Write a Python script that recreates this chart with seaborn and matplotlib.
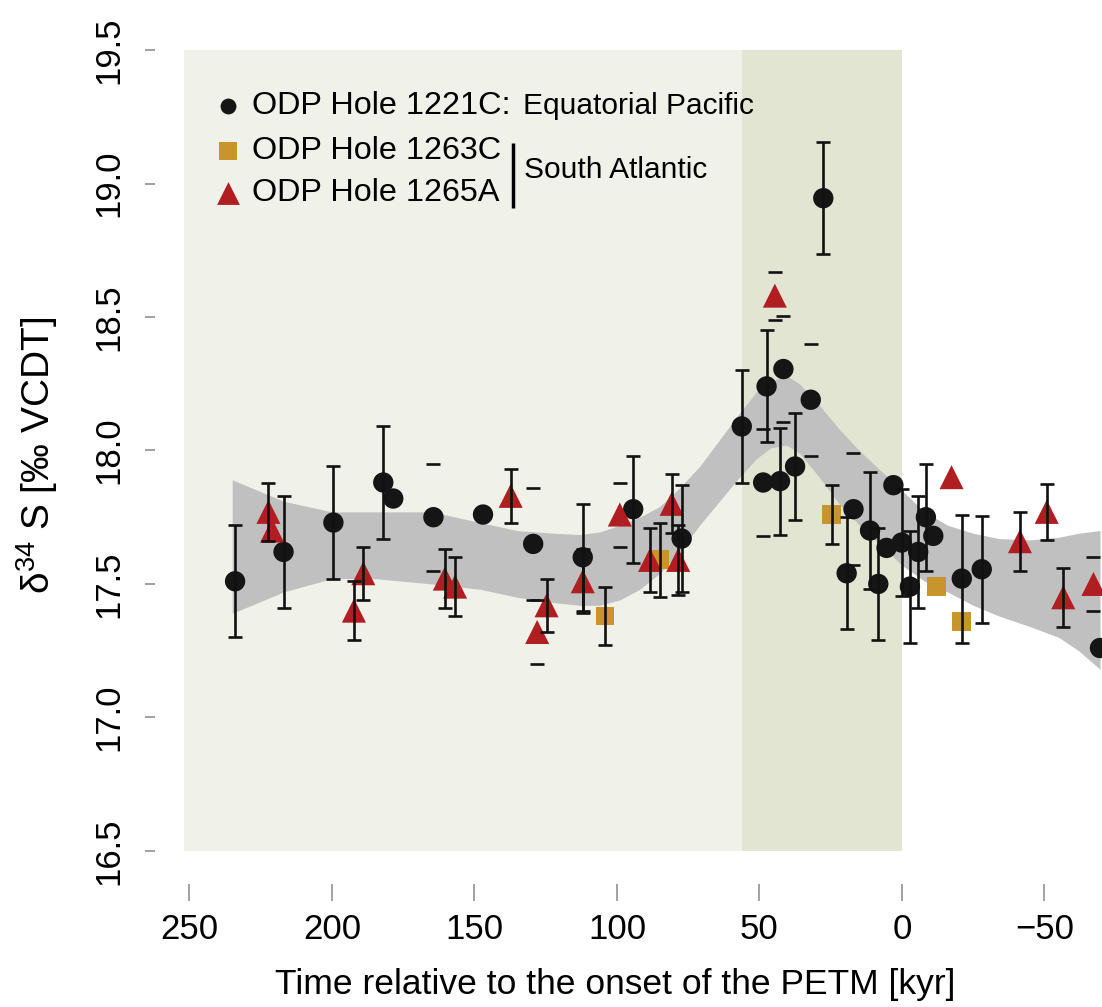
import matplotlib
matplotlib.use("Agg")
import matplotlib.pyplot as plt
import seaborn as sns
import pandas as pd
import numpy as np

# ---------------- data ----------------
# ODP Hole 1221C (Equatorial Pacific) - circles
t_1221 = [234, 217, 199.5, 182, 178.5, 164.4, 147, 129.4, 112, 94.3, 77.3, 56.2, 48.7, 47.5, 42.8,
          41.6, 37.5, 32, 27.6, 17, 19.4, 11.2, 8.3, 5.4, 3, 0.1, -2.8, -5.7, -8.4, -11, -21, -28, -69.5]
v_1221 = [17.51, 17.62, 17.73, 17.88, 17.82, 17.75, 17.76, 17.65, 17.60, 17.78, 17.67, 18.09, 17.88, 18.24, 17.885,
          18.305, 17.94, 18.19, 18.945, 17.78, 17.54, 17.70, 17.50, 17.635, 17.87, 17.655, 17.49, 17.62, 17.75, 17.68,
          17.52, 17.555, 17.26]
e_1221 = [0.21, 0.21, 0.21, 0.21, 0, 0.2, 0, 0.21, 0.2, 0.2, 0.2, 0.21, 0.2, 0.21, 0.2,
          0.2, 0.2, 0.21, 0.21, 0.21, 0.21, 0.22, 0.21, 0, 0, 0.2, 0.21, 0.21, 0.2, 0,
          0.24, 0.2, 0]
bar_1221 = ['full', 'full', 'full', 'full', 'none', 'cap', 'none', 'cap', 'full', 'full', 'full', 'full', 'cap', 'full', 'full',
            'cap', 'full', 'cap', 'full', 'cap', 'full', 'full', 'full', 'none', 'none', 'full', 'full', 'full', 'full', 'none',
            'full', 'full', 'none']

# ODP Hole 1263C (South Atlantic) - squares
t_1263 = [104.2, 85, 24.7, -12.2, -21]
v_1263 = [17.38, 17.59, 17.76, 17.49, 17.36]
e_1263 = [0.11, 0.14, 0.11, 0, 0]
bar_1263 = ['full', 'full', 'full', 'none', 'none']

# ODP Hole 1265A (South Atlantic) - triangles
t_1265 = [222.3, 221, 192.3, 189, 160.4, 156.8, 137.3, 128, 124.7, 112, 99, 88.4, 80.8, 78.5, 44.6,
          -17.4, -41.4, -50.8, -56.6, -67.2]
v_1265 = [17.77, 17.70, 17.40, 17.54, 17.52, 17.49, 17.83, 17.32, 17.42, 17.51, 17.76, 17.59, 17.80, 17.59, 18.58,
          17.90, 17.66, 17.77, 17.45, 17.50]
e_1265 = [0.11, 0, 0.11, 0.1, 0.11, 0.11, 0.1, 0.12, 0.1, 0.12, 0.12, 0.12, 0.11, 0.13, 0.09,
          0, 0.11, 0.105, 0.11, 0.1]
bar_1265 = ['full', 'none', 'full', 'full', 'full', 'full', 'full', 'cap', 'full', 'full', 'cap', 'full', 'full', 'full', 'cap',
            'none', 'full', 'full', 'full', 'cap']

# smoothed fit confidence band
band_t = [235, 217, 200, 185, 165, 148, 135, 122, 113, 106, 99, 92, 85, 78, 71, 64, 57, 51, 46, 40.5, 36,
          29, 22, 15, 8, 0, -8, -16, -25, -34, -45, -55, -62, -69.5]
band_upper = [17.89, 17.81, 17.77, 17.77, 17.77, 17.73, 17.70, 17.69, 17.685, 17.695, 17.72, 17.75, 17.79, 17.86,
              17.94, 18.04, 18.14, 18.22, 18.26, 18.28, 18.25, 18.17, 18.08, 18.00, 17.93, 17.85, 17.77, 17.72,
              17.69, 17.67, 17.665, 17.675, 17.69, 17.70]
band_lower = [17.39, 17.47, 17.52, 17.52, 17.50, 17.48, 17.45, 17.43, 17.42, 17.42, 17.44, 17.48, 17.54, 17.62,
              17.72, 17.81, 17.90, 17.97, 18.01, 18.02, 17.99, 17.90, 17.80, 17.72, 17.65, 17.57, 17.51, 17.47,
              17.42, 17.38, 17.34, 17.30, 17.25, 17.18]

# shaded intervals
pre_span = [56.1, 252]
petm_span = [0, 56.1]

x_ticks = [250, 200, 150, 100, 50, 0, -50]
x_ticklabels = ['250', '200', '150', '100', '50', '0', '\u221250']
y_ticks = [16.5, 17.0, 17.5, 18.0, 18.5, 19.0, 19.5]
y_ticklabels = ['16.5', '17.0', '17.5', '18.0', '18.5', '19.0', '19.5']

sites = ['1221C', '1263C', '1265A']
labels = ['ODP Hole 1221C:', 'ODP Hole 1263C', 'ODP Hole 1265A']
colors = {'1221C': '#151515', '1263C': '#c8942c', '1265A': '#b01e22'}
markers = {'1221C': 'o', '1263C': 's', '1265A': '^'}
sizes = {'1221C': 215, '1263C': 185, '1265A': 300}

# ---------------- style ----------------
sns.set_style("white")
plt.rcParams['font.family'] = ['Liberation Sans', 'DejaVu Sans']
plt.rcParams['mathtext.fontset'] = 'custom'
plt.rcParams['mathtext.rm'] = 'Liberation Sans'
plt.rcParams['mathtext.it'] = 'Liberation Sans:italic'
plt.rcParams['text.color'] = 'black'
plt.rcParams['axes.labelcolor'] = 'black'
plt.rcParams['xtick.labelcolor'] = 'black'
plt.rcParams['ytick.labelcolor'] = 'black'

W, H = 1102, 1007
fig = plt.figure(figsize=(W / 100, H / 100), dpi=100)
ax_l, ax_r, ax_t, ax_b = 155, 1102, 18, 884
ax = fig.add_axes([ax_l / W, (H - ax_b) / H, (ax_r - ax_l) / W, (ax_b - ax_t) / H])
ax.set_facecolor('white')

ax.set_xlim(262.1, -70.2)
ax.set_ylim(16.376, 19.62)

# background spans
ax.fill_between(pre_span, 16.5, 19.5, color='#f0f1e8', lw=0, zorder=0)
ax.fill_between(petm_span, 16.5, 19.5, color='#e2e5d1', lw=0, zorder=0)

# confidence band
ax.fill_between(band_t, band_lower, band_upper, color='#c0c0c0', lw=0, zorder=1)

frames = []
for s, tt, vv, ee, bb in [('1221C', t_1221, v_1221, e_1221, bar_1221),
                          ('1263C', t_1263, v_1263, e_1263, bar_1263),
                          ('1265A', t_1265, v_1265, e_1265, bar_1265)]:
    frames.append(pd.DataFrame({'t': tt, 'v': vv, 'e': ee, 'bar': bb, 'site': s}))
df = pd.concat(frames, ignore_index=True)

sns.scatterplot(data=df, x='t', y='v', hue='site', style='site', size='site',
                palette=colors, markers=markers, sizes=sizes, hue_order=sites,
                linewidth=0, edgecolor='none', legend=False, ax=ax, zorder=3)

full = df[df['bar'] == 'full']
ax.errorbar(full['t'], full['v'], yerr=full['e'], fmt='none', ecolor='#111111',
            elinewidth=1.9, capsize=4.7, capthick=1.9, zorder=4)
caps = df[df['bar'] == 'cap']
ax.errorbar(caps['t'], caps['v'], yerr=caps['e'], fmt='none', ecolor='#111111',
            elinewidth=0, capsize=4.7, capthick=1.9, zorder=4)

# axes styling
for sp in ax.spines.values():
    sp.set_visible(False)
ax.set_xticks(x_ticks)
ax.set_xticklabels(x_ticklabels, fontsize=25)
ax.set_yticks(y_ticks)
ax.set_yticklabels(y_ticklabels, fontsize=25, rotation=90, va='center')
ax.tick_params(axis='x', direction='out', length=12, width=1.3, color='#9a9a9a', pad=9, bottom=True)
ax.tick_params(axis='y', direction='out', length=7, width=1.3, color='#9a9a9a', pad=14, left=True)

ax.set_xlabel('Time relative to the onset of the PETM [kyr]', fontsize=25.5)
ax.xaxis.set_label_coords((615 - ax_l) / (ax_r - ax_l), (ax_b - 968) / (ax_b - ax_t))
ax.set_ylabel('\u03b4$^{34}$ S [\u2030 VCDT]', fontsize=28)
ax.yaxis.set_label_coords((60 - ax_l) / (ax_r - ax_l), (ax_b - 455) / (ax_b - ax_t))

# custom legend
def fx(px):
    return (px - ax_l) / (ax_r - ax_l)

def fy(py):
    return (ax_b - py) / (ax_b - ax_t)

leg_rows = [106, 151, 193]
leg_sizes = {'1221C': 130, '1263C': 160, '1265A': 270}
for s, lab, py in zip(sites, labels, leg_rows):
    ax.scatter([fx(228)], [fy(py)], marker=markers[s], s=leg_sizes[s], color=colors[s],
               linewidths=0, transform=ax.transAxes, zorder=5)
    ax.text(fx(252), fy(py), lab, fontsize=23.3, va='center', ha='left',
            transform=ax.transAxes, zorder=5)
ax.text(fx(523), fy(106), 'Equatorial Pacific', fontsize=21.5, va='center', ha='left',
        transform=ax.transAxes, zorder=5)
ax.plot([fx(513), fx(513)], [fy(143), fy(208)], color='black', lw=2.5,
        transform=ax.transAxes, zorder=5, solid_capstyle='butt')
ax.text(fx(524), fy(170), 'South Atlantic', fontsize=21.5, va='center', ha='left',
        transform=ax.transAxes, zorder=5)

fig.savefig('out.png', dpi=100)
